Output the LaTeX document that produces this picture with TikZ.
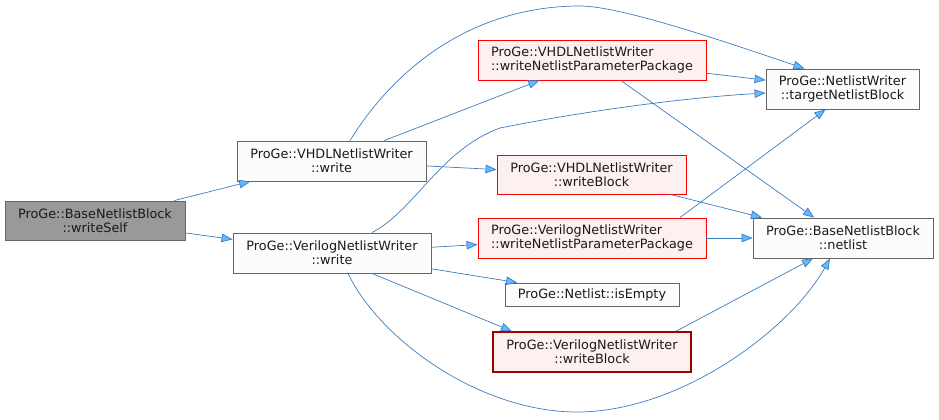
\documentclass[tikz,border=0pt]{standalone}
\usepackage{fontspec}
\setmainfont{DejaVu Sans}
\usetikzlibrary{arrows.meta,calc}
\definecolor{edgeblue}{HTML}{3A7DC0}
\definecolor{arrowfill}{HTML}{63B8FF}
\definecolor{boxgray}{HTML}{666666}
\definecolor{boxfill}{HTML}{FBFCFB}
\definecolor{selffill}{HTML}{999999}
\definecolor{redfill}{HTML}{FCF0F0}
\definecolor{redline}{HTML}{FF0000}
\definecolor{darkred}{HTML}{A00000}
\definecolor{textc}{HTML}{1A1A1A}
\begin{document}
\begin{tikzpicture}[x=1pt,y=-1pt,
  box/.style={draw=boxgray, fill=boxfill, line width=0.9pt, minimum width=#1,
    minimum height=40pt, inner sep=0pt, align=center,
    font=\fontsize{12.8}{14}\selectfont, text=textc},
  redbox/.style={box=#1, draw=redline, fill=redfill},
  edge/.style={draw=edgeblue, line width=0.7pt,
    -{Triangle[length=11pt,width=8.5pt,fill=arrowfill]}}]
\useasboundingbox (0,0) rectangle (939,420);

\node[box=180, fill=selffill, minimum height=39pt] (ws) at (95,220.5) {ProGe::BaseNetlistBlock\\::writeSelf};
\node[box=189] (vw) at (331.5,161) {ProGe::VHDLNetlistWriter\\::write};
\node[box=198] (gw) at (332,253) {ProGe::VerilogNetlistWriter\\::write};
\node[redbox=228, align=left] (vp) at (592,60) {ProGe::VHDLNetlistWriter\\::writeNetlistParameterPackage};
\node[redbox=189, minimum height=39pt] (vb) at (591.5,174.5) {ProGe::VHDLNetlistWriter\\::writeBlock};
\node[redbox=228, align=left] (gp) at (592,238) {ProGe::VerilogNetlistWriter\\::writeNetlistParameterPackage};
\node[box=174, minimum height=23pt] (ie) at (592,294.5) {ProGe::Netlist::isEmpty};
\node[redbox=198, draw=darkred, line width=1.5pt] (gb) at (592,352) {ProGe::VerilogNetlistWriter\\::writeBlock};
\node[box=153] (tg) at (842.5,89) {ProGe::NetlistWriter\\::targetNetlistBlock};
\node[box=180] (nl) at (843,238) {ProGe::BaseNetlistBlock\\::netlist};

\draw[edge] (ws) -- (vw);
\draw[edge] (ws) -- (gw);
\draw[edge] (vw) -- (vp);
\draw[edge] (vw) -- (vb);
\draw[edge] ([xshift=18.5pt]vw.north) .. controls (400,60) and (480,6) .. (580,6)
  .. controls (620,6) and (720,40) .. ([xshift=-38pt]tg.north);
\draw[edge] (vp) -- (tg);
\draw[edge] (vp) -- (nl);
\draw[edge] (vb) -- (nl);
\draw[edge] ([xshift=88pt]gp.north) -- ([xshift=-17pt]tg.south);
\draw[edge] (gp) -- (nl);
\draw[edge] (gw) -- (gp);
\draw[edge] (gw) -- (ie);
\draw[edge] ([xshift=40pt]gw.south) -- ([xshift=-80pt]gb.north);
\draw[edge] ([xshift=84pt]gb.north) -- ([xshift=-30pt]nl.south);
\draw[edge] ([xshift=40pt]gw.north) .. controls (415,210) and (440,150) .. (500,128)
  .. controls (580,112) and (680,98) .. ([yshift=-4pt]tg.west);
\draw[edge] ([xshift=16pt]gw.south) .. controls (380,340) and (480,412) .. (577,412)
  .. controls (680,412) and (790,330) .. ([xshift=-13pt]nl.south);
\end{tikzpicture}
\end{document}
